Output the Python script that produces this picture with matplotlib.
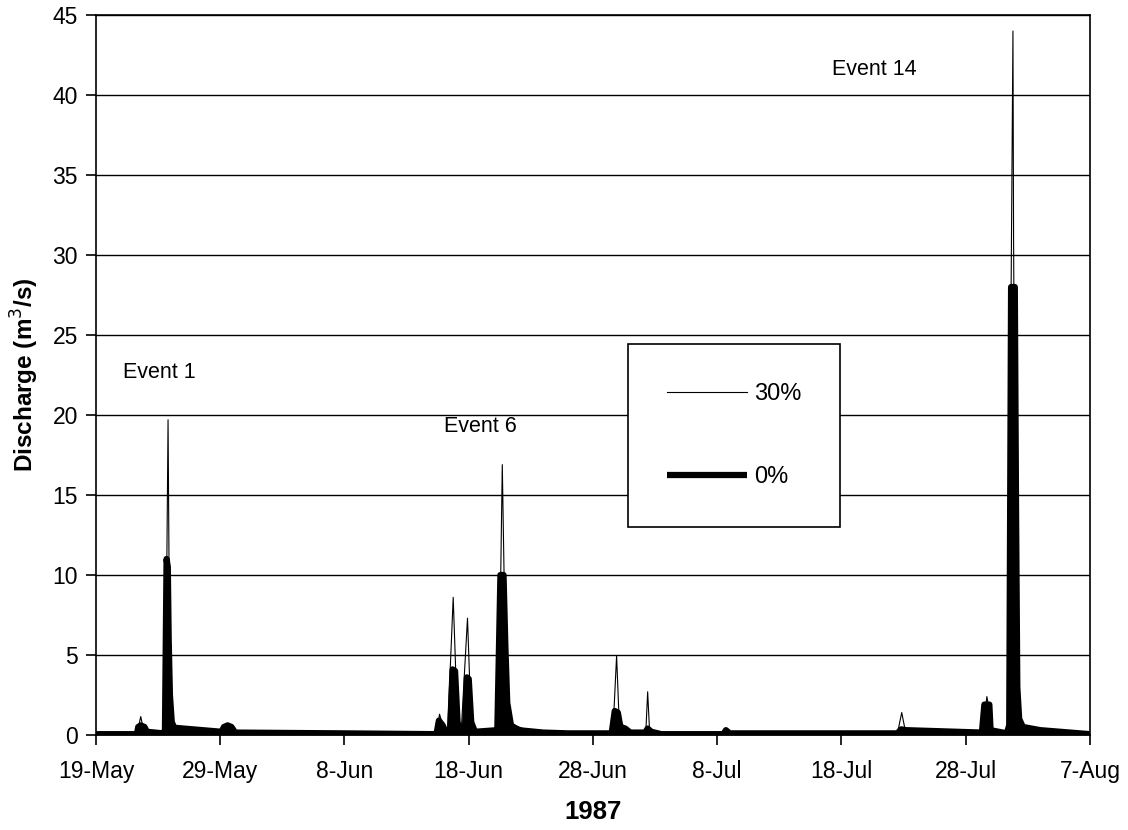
import matplotlib
matplotlib.use("Agg")
from matplotlib import pyplot as plt
import pandas as pd

plt.rcParams["font.family"] = ["Liberation Sans", "DejaVu Sans"]

start = pd.Timestamp("1987-05-19")

# hydrograph points, day offsets from 19-May-1987 and discharge (m3/s)
days_30 = [0, 3.3, 3.45, 3.6, 3.75, 4.1, 5.4, 5.6, 5.8, 5.95, 6.2, 6.4, 10.1, 10.4, 10.6,
           10.9, 11.3, 20.0, 27.4, 27.65, 27.9, 28.3, 28.75, 29.1, 29.4, 29.9, 30.2, 30.5,
           32.4, 32.7, 33.0, 33.4, 35.0, 41.6, 41.9, 42.1, 42.5, 42.65, 43.0, 44.25, 44.4,
           44.55, 45.5, 50.6, 50.8, 51.0, 64.5, 64.85, 65.1, 66.0, 71.4, 71.7, 71.9, 72.0,
           73.4, 73.8, 73.85, 74.0, 74.2, 74.6, 76.0, 80.0]
flow_30 = [0.05, 0.05, 0.6, 1.15, 0.6, 0.25, 0.15, 1.5, 19.7, 2.0, 0.6, 0.45, 0.2, 0.5, 0.6,
           0.45, 0.15, 0.1, 0.05, 1.3, 0.6, 0.2, 8.6, 0.6, 0.3, 7.3, 0.6, 0.2,
           0.4, 16.9, 2.5, 0.7, 0.2, 0.1, 4.95, 1.0, 0.5, 0.45, 0.15, 0.15, 2.7,
           0.3, 0.05, 0.05, 0.4, 0.1, 0.1, 1.4, 0.4, 0.3, 0.2, 2.4, 1.5, 0.3,
           0.2, 44.0, 31.0, 10.0, 2.0, 0.5, 0.3, 0.05]

days_0 = [0, 3.3, 3.4, 3.6, 3.9, 4.1, 5.4, 5.55, 5.68, 5.78, 5.85, 5.95, 6.1, 6.3, 10.1,
          10.3, 10.6, 10.9, 11.2, 20.0, 27.4, 27.6, 27.9, 28.2, 28.5, 28.7, 28.9, 29.1,
          29.3, 29.7, 29.85, 30.0, 30.2, 30.5, 32.3, 32.55, 32.8, 32.95, 33.1, 33.4, 34.0,
          36.0, 38.0, 41.5, 41.75, 42.0, 42.2, 42.6, 43.0, 44.2, 44.4, 44.7, 45.5, 50.5,
          50.7, 51.0, 64.5, 64.8, 65.2, 71.3, 71.5, 71.9, 72.0, 73.3, 73.5, 73.65, 73.95,
          74.05, 74.15, 74.3, 74.6, 76.0, 80.0]
flow_0 = [0.05, 0.05, 0.5, 0.6, 0.5, 0.2, 0.1, 0.3, 11.0, 10.5, 6.0, 2.5, 0.8, 0.45, 0.2,
          0.5, 0.6, 0.5, 0.15, 0.1, 0.05, 0.9, 0.6, 0.1, 0.3, 4.1, 4.0, 0.8,
          0.3, 0.5, 3.6, 3.5, 0.8, 0.2, 0.3, 10.0, 10.0, 5.5, 2.0, 0.6, 0.3,
          0.15, 0.1, 0.1, 1.5, 1.4, 0.5, 0.4, 0.15, 0.15, 0.4, 0.2, 0.05, 0.05,
          0.3, 0.1, 0.1, 0.35, 0.3, 0.15, 1.9, 1.9, 0.3, 0.1, 0.6, 28.0, 28.0,
          14.0, 3.0, 1.0, 0.5, 0.3, 0.05]

tick_days = [0, 10, 20, 30, 40, 50, 60, 70, 80]
tick_labels = ["19-May", "29-May", "8-Jun", "18-Jun", "28-Jun", "8-Jul", "18-Jul", "28-Jul", "7-Aug"]

events = ["Event 1", "Event 6", "Event 14"]
event_days = [2.2, 28.0, 59.2]
event_flow = [22.65, 19.3, 41.6]

x30 = start + pd.to_timedelta(days_30, unit="D")
x0 = start + pd.to_timedelta(days_0, unit="D")
xt = start + pd.to_timedelta(tick_days, unit="D")

fig = plt.figure(figsize=(11.28, 8.30), dpi=100)
ax = fig.add_axes([0.0851, 0.1145, 0.8812, 0.8674])

ax.plot(x30, flow_30, color="black", lw=0.8, label="30%")
ax.fill_between(x0, 0, flow_0, color="black", lw=0)
ax.plot(x0, flow_0, color="black", lw=4.5, solid_joinstyle="round",
        solid_capstyle="butt", label="0%")

ax.set_ylim(0, 45)
ax.set_yticks(range(0, 46, 5))
ax.set_xlim(xt[0], xt[-1])
ax.set_xticks(xt)
ax.set_xticklabels(tick_labels)
ax.yaxis.grid(True, color="black", lw=1.0)
ax.set_axisbelow(True)
ax.tick_params(labelsize=16.5, length=7, width=1.2, direction="out")
ax.tick_params(axis="x", pad=11)
ax.tick_params(axis="y", pad=6)
for s in ax.spines.values():
    s.set_linewidth(1.2)

for name, d, q in zip(events, event_days, event_flow):
    ax.text(start + pd.Timedelta(days=d), q, name, fontsize=15.5, va="center", ha="left")

ax.set_ylabel("Discharge (m$^3$/s)", fontsize=17.5, fontweight="bold", labelpad=8)
ax.set_xlabel("1987", fontsize=18.5, fontweight="bold", labelpad=12)

leg = ax.legend(loc="upper left", bbox_to_anchor=(0.535, 0.543), borderaxespad=0,
                fancybox=False, edgecolor="black", framealpha=1, fontsize=17,
                handlelength=3.4, handletextpad=0.3, labelspacing=2.6, borderpad=1.65)
leg.get_frame().set_linewidth(1.2)

plt.savefig("out.png", dpi=100)
